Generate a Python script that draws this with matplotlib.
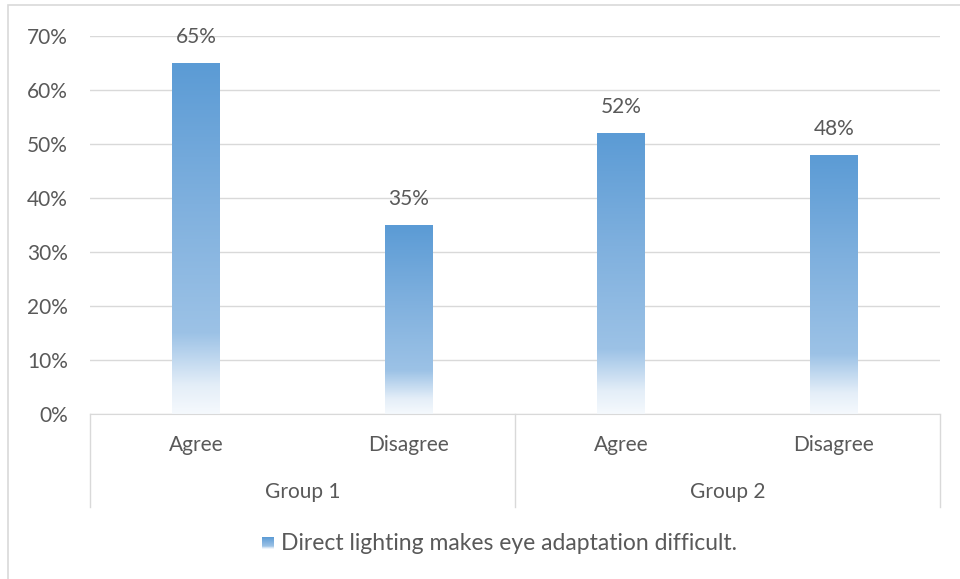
import numpy as np
import matplotlib.pyplot as plt
import matplotlib.transforms as mtransforms
from matplotlib.colors import LinearSegmentedColormap
from matplotlib.patches import Rectangle

# Survey answers per group
groups = ['Group 1', 'Group 2']
answers = ['Agree', 'Disagree', 'Agree', 'Disagree']
values = [0.65, 0.35, 0.52, 0.48]
series_name = 'Direct lighting makes eye adaptation difficult.'

plt.rcParams['font.family'] = ['Lato', 'DejaVu Sans']
text_col = '#595959'
fs = 15

# blue gradient, dark at the top, fading to white near the base
grad = LinearSegmentedColormap.from_list(
    'bar_grad',
    [(0.0, '#f5f9fd'), (0.08, '#e4eef8'), (0.23, '#9cc2e6'),
     (0.6, '#7fb0de'), (1.0, '#5b9bd5')])

fig = plt.figure(figsize=(9.6, 5.79), dpi=100)
ax = fig.add_axes([90 / 960, 1 - 414 / 579, 850 / 960, 378 / 579])

x = np.arange(len(values))
bars = ax.bar(x, values, width=0.225, color='none', edgecolor='none', zorder=2)
for b in bars:
    x0, y0 = b.get_x(), b.get_y()
    w, h = b.get_width(), b.get_height()
    img = ax.imshow(np.linspace(1, 0, 256).reshape(-1, 1), cmap=grad,
                    extent=[x0, x0 + w, y0, y0 + h], aspect='auto',
                    interpolation='bilinear', zorder=2)
    img.set_clip_path(b)

for xi, v in zip(x, values):
    ax.text(xi, v + 0.03, f'{v:.0%}', ha='center', va='bottom',
            fontsize=fs, color=text_col)

ax.set_xlim(-0.5, len(values) - 0.5)
ax.set_ylim(0, 0.7)
ax.set_yticks(np.arange(0, 0.71, 0.1))
ax.set_yticklabels([f'{t:.0%}' for t in np.arange(0, 0.71, 0.1)])
ax.tick_params(axis='y', length=0, pad=16, labelsize=fs, labelcolor=text_col)
ax.tick_params(axis='x', length=0, labelbottom=False)
ax.grid(axis='y', color='#d9d9d9', linewidth=1)
ax.set_axisbelow(True)
for s in ['top', 'right', 'left']:
    ax.spines[s].set_visible(False)
ax.spines['bottom'].set_color('#d9d9d9')

# two-level category axis underneath
trans = mtransforms.blended_transform_factory(ax.transData, ax.transAxes)
for xv in [-0.5, 1.5, 3.5]:
    ax.plot([xv, xv], [0, -0.246], transform=trans, color='#d9d9d9',
            linewidth=1, clip_on=False)
for xi, lab in zip(x, answers):
    ax.text(xi, -0.082, lab, transform=trans, ha='center', va='center',
            fontsize=fs, color=text_col)
for gi, g in enumerate(groups):
    ax.text(gi * 2 + 0.5, -0.206, g, transform=trans, ha='center',
            va='center', fontsize=fs, color=text_col)

# legend
key = fig.add_axes([262 / 960, 1 - 549 / 579, 12 / 960, 12 / 579])
key.imshow(np.linspace(1, 0.45, 64).reshape(-1, 1), cmap=grad,
           aspect='auto', extent=[0, 1, 0, 1])
key.axis('off')
fig.text(281 / 960, 1 - 543 / 579, series_name, ha='left', va='center',
         fontsize=16.5, color=text_col)

# chart border
fig.patches.append(Rectangle((8 / 960, -0.1), 1.2, 1 - 5 / 579 + 0.1,
                             transform=fig.transFigure, fill=False,
                             edgecolor='#d9d9d9', linewidth=1.2))

fig.savefig('out.png', dpi=100)
